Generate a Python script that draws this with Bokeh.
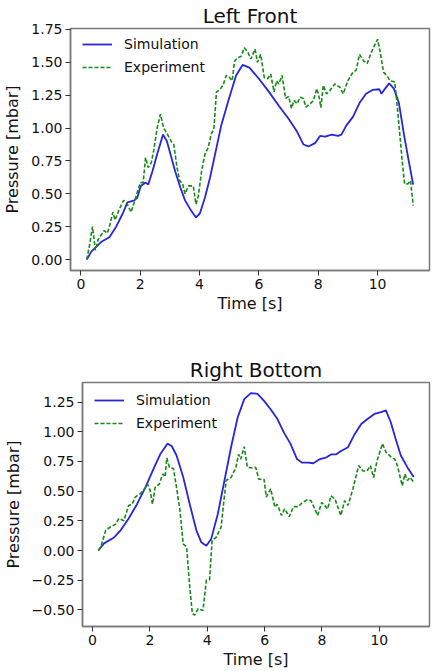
from bokeh.plotting import figure
from bokeh.layouts import column
from bokeh.models import Range1d, FixedTicker, CustomJSTickFormatter
from bokeh.embed import file_html
from bokeh.resources import INLINE

# ---- Left Front ----
lf_sim_t = [0.2, 0.35, 0.69, 0.96, 1.19, 1.41, 1.57, 1.80, 1.9, 2.02,
            2.18, 2.27, 2.41, 2.57, 2.77, 2.9, 3.02, 3.18, 3.35, 3.51,
            3.68, 3.88, 4.01, 4.18, 4.35, 4.57, 4.73, 4.96, 5.23, 5.45,
            5.68, 6.0, 6.34, 6.67, 7.0, 7.28, 7.5, 7.67, 7.89, 8.06,
            8.23, 8.45, 8.67, 8.78, 8.95, 9.17, 9.39, 9.61, 9.83, 10.06,
            10.13, 10.22, 10.39, 10.55, 10.72, 10.89, 11.05, 11.2]
lf_sim_p = [0, 0.06, 0.135, 0.17, 0.25, 0.35, 0.435, 0.45, 0.47, 0.56,
            0.585, 0.57, 0.67, 0.8, 0.95, 0.9, 0.8, 0.67, 0.55, 0.45,
            0.385, 0.32, 0.35, 0.47, 0.62, 0.85, 1.02, 1.2, 1.40, 1.48,
            1.46, 1.375, 1.275, 1.17, 1.07, 0.975, 0.875, 0.86, 0.885, 0.94,
            0.935, 0.95, 0.94, 0.95, 1.02, 1.085, 1.19, 1.26, 1.29, 1.295,
            1.26, 1.29, 1.34, 1.30, 1.19, 0.95, 0.75, 0.57]

lf_exp_t = [0.2, 0.3, 0.39, 0.49, 0.58, 0.78, 0.89, 0.96, 1.08, 1.15,
            1.3, 1.44, 1.57, 1.69, 1.8, 2.0, 2.1, 2.18, 2.27, 2.37,
            2.46, 2.57, 2.68, 2.79, 2.9, 3.04, 3.13, 3.24, 3.33, 3.43,
            3.51, 3.63, 3.79, 3.88, 3.96, 4.07, 4.18, 4.29, 4.40, 4.48,
            4.57, 4.68, 4.79, 4.9, 5.01, 5.1, 5.18, 5.29, 5.40, 5.51,
            5.62, 5.73, 5.87, 5.95, 6.06, 6.18, 6.29, 6.4, 6.51, 6.6,
            6.67, 6.78, 6.9, 7.0, 7.1, 7.18, 7.29, 7.39, 7.5, 7.58,
            7.73, 7.84, 7.95, 8.03, 8.09, 8.17, 8.28, 8.39, 8.56, 8.73,
            8.84, 9.0, 9.17, 9.28, 9.39, 9.53, 9.65, 9.76, 9.89, 10.0,
            10.09, 10.2, 10.31, 10.42, 10.58, 10.67, 10.75, 10.83, 10.91, 11.02,
            11.11, 11.2]
lf_exp_p = [0.0, 0.12, 0.25, 0.07, 0.15, 0.22, 0.2, 0.25, 0.36, 0.30,
            0.385, 0.45, 0.42, 0.36, 0.435, 0.585, 0.585, 0.775, 0.70, 0.735,
            0.835, 1.0, 1.105, 1.0, 0.96, 0.9, 0.875, 0.70, 0.6, 0.575,
            0.5, 0.56, 0.56, 0.42, 0.485, 0.675, 0.8, 0.85, 0.96, 0.985,
            1.275, 1.29, 1.325, 1.40, 1.385, 1.36, 1.51, 1.535, 1.545, 1.61,
            1.58, 1.525, 1.6, 1.5, 1.56, 1.385, 1.375, 1.41, 1.275, 1.36,
            1.335, 1.40, 1.225, 1.24, 1.15, 1.21, 1.185, 1.235, 1.225, 1.16,
            1.185, 1.21, 1.30, 1.235, 1.155, 1.325, 1.26, 1.285, 1.335, 1.31,
            1.26, 1.36, 1.425, 1.44, 1.56, 1.51, 1.49, 1.56, 1.625, 1.675,
            1.575, 1.425, 1.40, 1.36, 1.35, 1.15, 0.95, 0.75, 0.575, 0.575,
            0.6, 0.41]

# ---- Right Bottom ----
rb_sim_t = [0.2, 0.4, 0.75, 0.98, 1.26, 1.55, 1.84, 2.13, 2.36, 2.61,
            2.76, 2.93, 3.16, 3.39, 3.62, 3.79, 3.97, 4.14, 4.37, 4.6,
            4.83, 5.06, 5.29, 5.52, 5.75, 5.98, 6.21, 6.44, 6.67, 6.9,
            7.13, 7.3, 7.53, 7.7, 7.93, 8.16, 8.33, 8.5, 8.68, 8.91,
            9.14, 9.37, 9.6, 9.83, 10.06, 10.23, 10.4, 10.57, 10.75, 10.98,
            11.2]
rb_sim_p = [0, 0.06, 0.11, 0.17, 0.27, 0.39, 0.53, 0.69, 0.81, 0.90,
            0.88, 0.80, 0.62, 0.39, 0.17, 0.07, 0.04, 0.10, 0.31, 0.59,
            0.87, 1.12, 1.275, 1.325, 1.32, 1.26, 1.19, 1.11, 0.995, 0.90,
            0.77, 0.74, 0.74, 0.735, 0.77, 0.785, 0.81, 0.81, 0.84, 0.87,
            0.98, 1.065, 1.11, 1.15, 1.165, 1.18, 1.08, 0.94, 0.80, 0.70,
            0.62]

rb_exp_t = [0.2, 0.29, 0.46, 0.63, 0.8, 0.92, 1.09, 1.26, 1.38, 1.49,
            1.67, 1.78, 1.92, 2.01, 2.09, 2.18, 2.33, 2.45, 2.53, 2.59,
            2.68, 2.82, 2.93, 3.05, 3.16, 3.28, 3.39, 3.48, 3.56, 3.68,
            3.85, 3.97, 4.08, 4.17, 4.31, 4.48, 4.66, 4.83, 5.0, 5.09,
            5.17, 5.29, 5.4, 5.57, 5.69, 5.8, 5.98, 6.06, 6.21, 6.36,
            6.44, 6.59, 6.7, 6.86, 7.01, 7.18, 7.3, 7.47, 7.62, 7.85,
            7.99, 8.2, 8.31, 8.45, 8.66, 8.79, 8.91, 9.08, 9.28, 9.43,
            9.57, 9.69, 9.8, 9.92, 10.11, 10.23, 10.4, 10.54, 10.63, 10.8,
            10.89, 10.98, 11.07, 11.2]
rb_exp_p = [0, 0.03, 0.17, 0.2, 0.22, 0.27, 0.25, 0.38, 0.39, 0.45,
            0.48, 0.505, 0.56, 0.505, 0.39, 0.53, 0.56, 0.645, 0.62, 0.78,
            0.70, 0.69, 0.53, 0.335, 0.055, 0.03, -0.31, -0.53, -0.545, -0.49,
            -0.505, -0.25, -0.245, 0.085, 0.11, 0.195, 0.59, 0.615, 0.70, 0.81,
            0.77, 0.875, 0.70, 0.695, 0.70, 0.6, 0.60, 0.45, 0.52, 0.365,
            0.39, 0.295, 0.35, 0.285, 0.37, 0.37, 0.40, 0.425, 0.42, 0.295,
            0.405, 0.35, 0.46, 0.435, 0.295, 0.42, 0.38, 0.52, 0.715, 0.67,
            0.67, 0.715, 0.615, 0.755, 0.90, 0.83, 0.79, 0.77, 0.715, 0.545,
            0.645, 0.59, 0.615, 0.575]

x_ticks = [0, 2, 4, 6, 8, 10]
lf_y_ticks = [0.0, 0.25, 0.5, 0.75, 1.0, 1.25, 1.5, 1.75]
rb_y_ticks = [-0.5, -0.25, 0.0, 0.25, 0.5, 0.75, 1.0, 1.25]

FONT = "DejaVu Sans"
SIM_COLOR = "#2626dc"
EXP_COLOR = "#158a15"
FRAME_COLOR = "#7a7a7a"
TEXT_COLOR = "#111111"

yfmt = CustomJSTickFormatter(code="""
    var s = Math.abs(tick).toFixed(2);
    return (tick < -1e-9 ? '\u2212' : '') + s;
""")


def make(title, st, sp, et, ep, yr, yticks, h, top, bottom, left, fh):
    p = figure(width=436, height=h, output_backend="svg", toolbar_location=None,
               x_range=Range1d(-0.35, 11.75), y_range=Range1d(*yr),
               min_border_left=left, min_border_right=7,
               min_border_top=top, min_border_bottom=bottom)
    p.frame_align = False
    p.title.text = title
    p.title.text_font = FONT
    p.title.text_font_size = "20px"
    p.title.text_font_style = "normal"
    p.title.text_color = TEXT_COLOR
    p.title.align = "center"
    p.title.standoff = 2
    p.grid.visible = False
    p.outline_line_color = FRAME_COLOR
    p.outline_line_width = 1.5
    p.background_fill_color = "white"
    p.border_fill_color = "white"

    p.line(st, sp, color=SIM_COLOR, line_width=1.8, legend_label="Simulation")
    p.line(et, ep, color=EXP_COLOR, line_width=1.6, line_dash="4 2",
           legend_label="Experiment")

    for ax in (p.xaxis[0], p.yaxis[0]):
        ax.axis_line_color = FRAME_COLOR
        ax.axis_line_width = 1.5
        ax.major_tick_out = 5
        ax.major_tick_in = 0
        ax.minor_tick_line_color = None
        ax.major_tick_line_color = "#333333"
        ax.major_label_text_font = FONT
        ax.major_label_text_font_size = "14px"
        ax.major_label_text_color = TEXT_COLOR
        ax.axis_label_text_font = FONT
        ax.axis_label_text_font_size = "16px"
        ax.axis_label_text_font_style = "normal"
        ax.axis_label_text_color = TEXT_COLOR
        ax.major_label_standoff = 3
        ax.axis_label_standoff = 2
    p.xaxis.axis_label = "Time [s]"
    p.yaxis.axis_label = "Pressure [mbar]"
    p.xaxis.ticker = FixedTicker(ticks=x_ticks)
    p.yaxis.ticker = FixedTicker(ticks=yticks)
    p.yaxis.formatter = yfmt
    p.yaxis.axis_label_standoff = 6

    lg = p.legend[0]
    lg.location = (12, fh - 8 - 43)
    lg.margin = 0
    lg.padding = 0
    lg.spacing = 3
    lg.glyph_width = 30
    lg.glyph_height = 20
    lg.label_height = 20
    lg.label_standoff = 12
    lg.label_text_font = FONT
    lg.label_text_font_size = "14px"
    lg.label_text_color = TEXT_COLOR
    lg.border_line_alpha = 0
    lg.background_fill_alpha = 0
    return p


p1 = make("Left Front", lf_sim_t, lf_sim_p, lf_exp_t, lf_exp_p,
          (-0.0835, 1.757), lf_y_ticks, 335, 26, 65, 66, 244)
p2 = make("Right Bottom", rb_sim_t, rb_sim_p, rb_exp_t, rb_exp_p,
          (-0.64, 1.415), rb_y_ticks, 336, 47, 45, 78, 244)

layout = column(p1, p2, spacing=0)
open("out.html", "w").write(file_html(layout, INLINE))
